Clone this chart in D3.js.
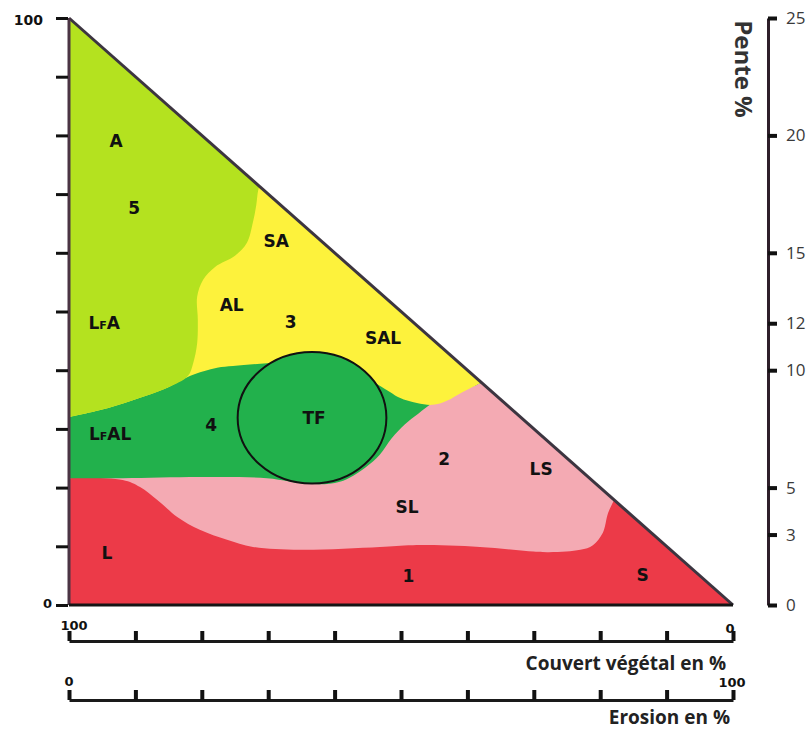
<!DOCTYPE html>
<html><head><meta charset="utf-8">
<script src="https://cdn.jsdelivr.net/npm/d3@7"></script>
<style>body{margin:0;background:#fff} svg{display:block}</style>
</head><body>
<svg id="c" width="811" height="729"></svg>
<script>
// ---- data (erosion %, slope-scale %) ----
const triangle = [[0,0],[0,100],[100,0]];
const redTop = [[0,21.6],[8.1,21.3],[10.7,20.1],[13.3,17.9],[16.3,15.0],[19.7,12.8],[23.8,11.1],[27.7,9.9],[34.8,9.4],[46.8,9.9],[51.8,10.2],[61.9,9.9],[72.0,9.0],[77.0,9.4],[78.9,10.2],[80.4,12.3],[81.2,15.7],[82.4,18.5],[84,21]];
const greenBottom = [[0,21.6],[8.1,21.6],[19.7,21.8],[29.8,21.6],[36.3,20.6],[40.8,21.0],[44.6,23.4],[46.8,25.6],[48.6,28.4],[50.6,30.8],[52.6,32.6],[54.8,34.4],[56.9,35.4],[59.3,36.6],[61.4,37.5],[64.2,38.7]];
const yellowBottom = [[0,32.0],[4.7,33.2],[9.6,34.9],[14.8,37.0],[18.2,39.0],[22.3,40.4],[24.7,40.7],[29.8,41.2],[39.3,41.7],[47.9,36.6],[49.8,35.3],[52.4,34.4],[54.8,34.1],[56.9,34.8],[59.3,36.3],[61.4,37.5],[64.2,38.7]];
const limeEdge = [[29.1,72.7],[28.5,70.7],[28.2,68.1],[27.7,65.2],[26.8,61.7],[25.0,59.5],[22.0,57.6],[20.2,55.4],[19.3,52.5],[19.4,48.6],[19.3,44.6],[18.7,41.2],[17.9,39.0],[14.8,37.0],[9.6,34.9],[4.7,33.2],[0,32.0]];
const tfCircle = {cx:36.6, cy:31.9, r:11.2};
const zoneLabels = [
  {t:"A",x:7.1,y:79.0},{t:"5",x:9.8,y:67.6},{t:"LFA",x:5.3,y:48.0},{t:"AL",x:24.5,y:51.1},
  {t:"SA",x:31.2,y:62.0},{t:"3",x:33.4,y:48.2},{t:"SAL",x:47.3,y:45.5},{t:"LFAL",x:6.2,y:29.1},
  {t:"4",x:21.4,y:30.7},{t:"TF",x:36.9,y:31.9},{t:"2",x:56.5,y:24.9},{t:"LS",x:71.1,y:23.2},
  {t:"SL",x:50.9,y:16.7},{t:"L",x:5.7,y:8.9},{t:"1",x:51.1,y:4.9},{t:"S",x:86.4,y:5.1}
];
const slopeTicks = [0,3,5,10,12,15,20,25];
const leftTicks = [0,10,20,30,40,50,60,70,80,90,100];
const percentTicks = [0,10,20,30,40,50,60,70,80,90,100];

const colors = {red:"#ec3a48", pink:"#f4aab3", green:"#22b14c", yellow:"#fdf23c", lime:"#b4e21f"};
const BOLD = "DejaVu Sans";

const svg = d3.select("#c");
const x = d3.scaleLinear().domain([0,100]).range([69,733]);
const y = d3.scaleLinear().domain([0,100]).range([605,18]);
const slope = d3.scaleLinear().domain([0,25]).range([605,18]);
const couvert = d3.scaleLinear().domain([100,0]).range([69,733]);
const erosion = d3.scaleLinear().domain([0,100]).range([69,733]);

const P = p => [x(p[0]), y(p[1])];
const smooth = d3.line().curve(d3.curveCatmullRom.alpha(0.5));

svg.append("clipPath").attr("id","tri").append("path")
  .attr("d", "M" + triangle.map(P).join("L") + "Z");

const g = svg.append("g").attr("clip-path","url(#tri)");
g.append("path").attr("d","M" + triangle.map(P).join("L") + "Z").attr("fill",colors.red);

function above(curve){
  const pts = curve.map(P);
  const first = pts[0], last = pts[pts.length-1];
  return "M" + [x(-5), first[1]] + smooth(pts).replace(/^M/,"L") +
    "L" + [last[0], y(110)] + "L" + [x(-5), y(110)] + "Z";
}
g.append("path").attr("d", above(redTop)).attr("fill", colors.pink);
g.append("path").attr("d", above(greenBottom)).attr("fill", colors.green);
g.append("path").attr("d", above(yellowBottom)).attr("fill", colors.yellow);
{
  const pts = limeEdge.map(P);
  const d = "M" + [pts[0][0], y(110)] + smooth(pts).replace(/^M/,"L") +
    "L" + [x(-5), pts[pts.length-1][1]] + "L" + [x(-5), y(110)] + "Z";
  g.append("path").attr("d", d).attr("fill", colors.lime);
}
g.append("ellipse")
  .attr("cx", x(tfCircle.cx)).attr("cy", y(tfCircle.cy))
  .attr("rx", x(tfCircle.r) - x(0)).attr("ry", y(0) - y(tfCircle.r))
  .attr("fill", colors.green).attr("stroke","#111").attr("stroke-width",2);

// triangle edges
svg.append("line").attr("x1",x(0)).attr("y1",y(100)).attr("x2",x(100)).attr("y2",y(0))
  .attr("stroke","#3c3540").attr("stroke-width",3);
svg.append("line").attr("x1",x(0)).attr("y1",y(100)).attr("x2",x(0)).attr("y2",y(0))
  .attr("stroke","#4a3444").attr("stroke-width",3);
svg.append("line").attr("x1",x(0)).attr("y1",y(0)).attr("x2",x(100)).attr("y2",y(0))
  .attr("stroke","#151515").attr("stroke-width",3);

// left axis ticks
const la = svg.append("g").attr("transform",`translate(${x(0)-1},0)`)
  .call(d3.axisLeft(y).tickValues(leftTicks).tickSize(12).tickSizeOuter(0).tickFormat(""));
la.select(".domain").remove();
la.selectAll(".tick line").attr("stroke","#111").attr("stroke-width",3);
svg.append("text").attr("x",43).attr("y",y(100)+7).attr("text-anchor","end")
  .attr("font-family",BOLD).attr("font-weight",700).attr("font-size",14).attr("fill","#111").text("100");
svg.append("text").attr("x",52).attr("y",y(0)+3).attr("text-anchor","end")
  .attr("font-family",BOLD).attr("font-weight",700).attr("font-size",13).attr("fill","#111").text("0");

// zone labels
const labs = svg.append("g").attr("font-family",BOLD).attr("font-weight",700)
  .attr("font-size",17).attr("fill","#111").attr("text-anchor","middle");
zoneLabels.forEach(l => {
  const t = labs.append("text").attr("x",x(l.x)).attr("y",y(l.y)).attr("dy","0.36em");
  if (l.t.startsWith("LF")) {
    t.append("tspan").text("L");
    t.append("tspan").attr("font-size",11).text("F");
    t.append("tspan").text(l.t.slice(2));
  } else t.text(l.t);
});

// right slope axis
const ra = svg.append("g").attr("transform","translate(768,0)")
  .call(d3.axisRight(slope).tickValues(slopeTicks).tickSize(9).tickSizeOuter(0).tickPadding(9));
ra.select(".domain").attr("stroke","#2e1f2a").attr("stroke-width",3);
ra.selectAll(".tick line").attr("stroke","#111").attr("stroke-width",4);
ra.selectAll(".tick text").attr("font-family","Open Sans").attr("font-size",17).attr("fill","#3a3a3a");
svg.append("text").attr("transform","translate(735,69) rotate(90)").attr("text-anchor","middle")
  .attr("font-family","Open Sans").attr("font-weight",700).attr("font-size",24).attr("fill","#333").text("Pente %");

// bottom axes
function bottomAxis(scale, yy, leftLab, rightLab, leftX, rightX, labY, title, titleX, titleY){
  const a = svg.append("g").attr("transform",`translate(0,${yy})`)
    .call(d3.axisTop(scale).tickValues(percentTicks).tickSize(10).tickSizeOuter(0).tickFormat(""));
  a.select(".domain").attr("stroke","#1a1a1a").attr("stroke-width",3);
  a.selectAll(".tick line").attr("stroke","#111").attr("stroke-width",4);
  svg.append("text").attr("x",leftX).attr("y",labY[0]).attr("text-anchor","middle")
    .attr("font-family",BOLD).attr("font-weight",700).attr("font-size",13).attr("fill","#111").text(leftLab);
  svg.append("text").attr("x",rightX).attr("y",labY[1]).attr("text-anchor","middle")
    .attr("font-family",BOLD).attr("font-weight",700).attr("font-size",13).attr("fill","#111").text(rightLab);
  svg.append("text").attr("x",titleX).attr("y",titleY).attr("text-anchor","end")
    .attr("font-family","Open Sans").attr("font-weight",700).attr("font-size",19).attr("fill","#222").text(title);
}
bottomAxis(couvert, 641, "100", "0", 74, 730, [630,633], "Couvert végétal en %", 726, 670);
bottomAxis(erosion, 700, "0", "100", 69, 732, [686,687], "Erosion en %", 730, 724);
</script>
</body></html>
